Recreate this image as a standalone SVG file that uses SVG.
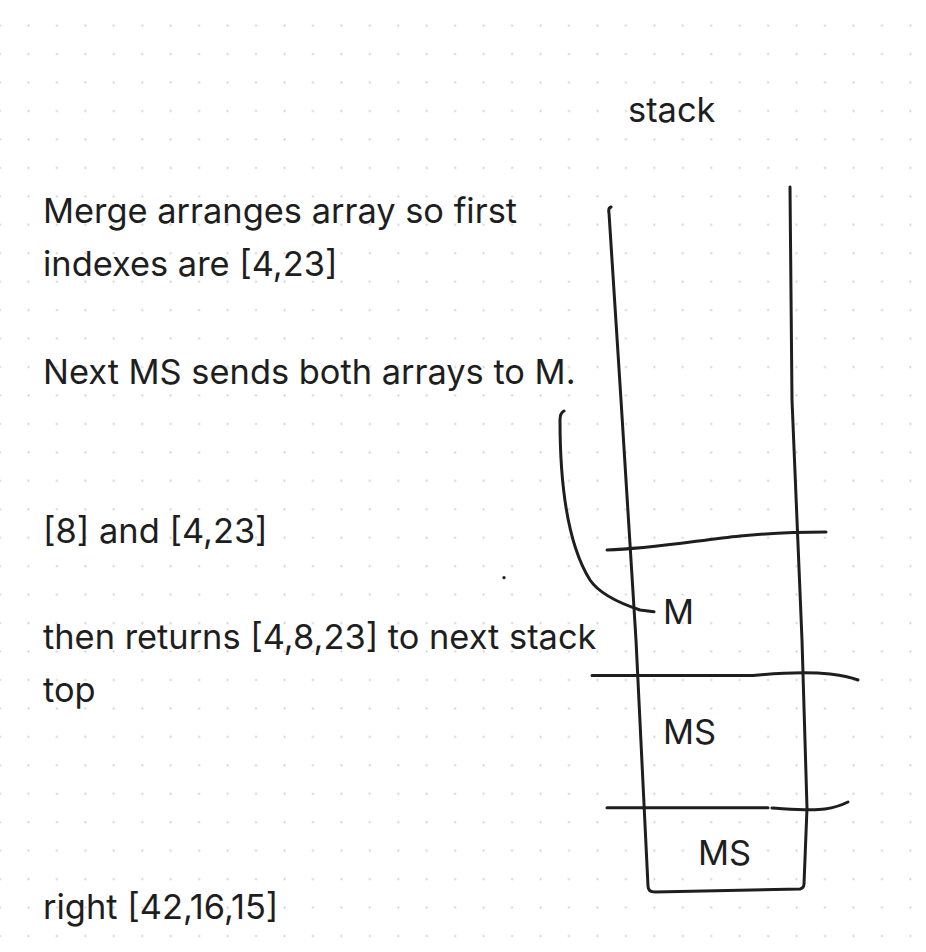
<svg xmlns="http://www.w3.org/2000/svg" width="926" height="952" viewBox="0 0 926 952">
<defs>
<pattern id="dots" patternUnits="userSpaceOnUse" x="-14.22" y="11.5" width="28.45" height="28.45">
<circle cx="14.22" cy="14.22" r="1.1" fill="#cfcfcf"/>
</pattern>
<style>
.t{font-family:Inter,"Noto Sans","Liberation Sans",sans-serif;font-size:34.4px;fill:#1e1e1e}
.s{fill:none;stroke:#1e1e1e;stroke-width:3;stroke-linecap:round;stroke-linejoin:round}
</style>
</defs>
<rect width="926" height="952" fill="#ffffff"/>
<rect width="926" height="952" fill="url(#dots)"/>
<g id="connectors">
<path class="s" d="M611,207 Q608,208 609,213 L621,400 L636,640 L648,886 Q648,892 655,892 L800,889 Q804,888 804,884 L807,808 L802,640 L792,400 L790,187"/>
<path class="s" d="M607,550 C650,549 700,540 740,536 C770,533 800,532 826,532"/>
<path class="s" d="M592,675.5 L753,675.5 C780,673 810,672 830,674 C845,676 853,678 858,680"/>
<path class="s" d="M607,807.7 L768,807.7"/>
<path class="s" d="M772,808 C790,809 810,811 825,809 C838,807 844,804 848,802"/>
<path class="s" d="M564,411 Q560,413 560,420 C560,470 565,540 590,580 C600,595 625,605 640,610 L654,611.7"/>
<circle cx="504" cy="577.7" r="1.6" fill="#1e1e1e"/>
</g>
<g id="stack-label"><text class="t" x="628" y="122">stack</text></g>
<g id="note-merge"><text class="t" x="43" y="223">Merge arranges array so first</text><text class="t" x="43" y="276">indexes are [4,23]</text></g>
<g id="note-next"><text class="t" x="43" y="384">Next MS sends both arrays to M.</text></g>
<g id="note-arrays"><text class="t" x="43" y="543">[8] and [4,23]</text></g>
<g id="note-returns"><text class="t" x="43" y="649">then returns [4,8,23] to next stack</text><text class="t" x="43" y="702">top</text></g>
<g id="note-right"><text class="t" x="43" y="919">right [42,16,15]</text></g>
<g id="frame-M"><text class="t" x="663" y="624">M</text></g>
<g id="frame-MS1"><text class="t" x="663" y="744">MS</text></g>
<g id="frame-MS2"><text class="t" x="698" y="865">MS</text></g>
</svg>
